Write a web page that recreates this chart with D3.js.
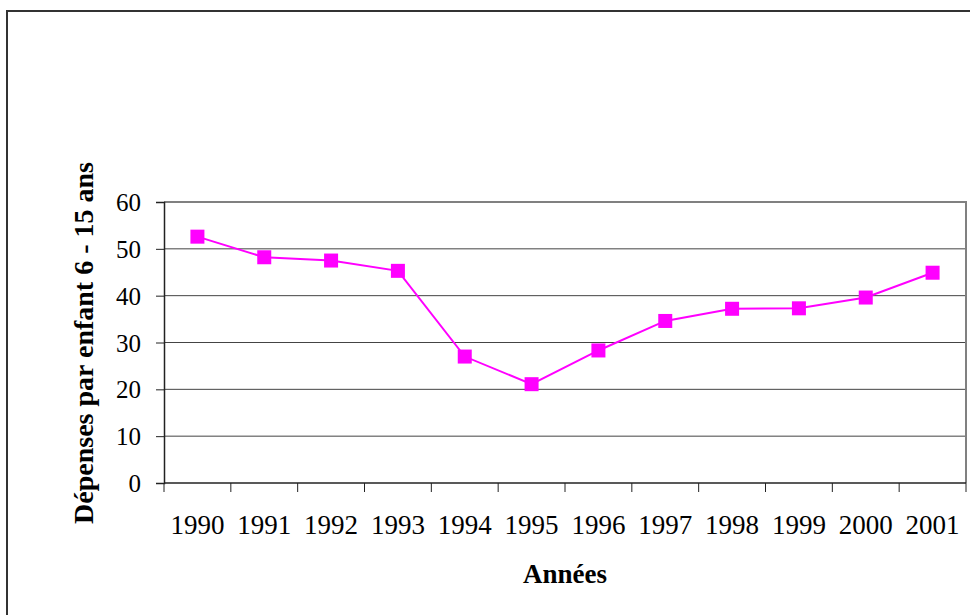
<!DOCTYPE html>
<html>
<head>
<meta charset="utf-8">
<script src="https://cdn.jsdelivr.net/npm/d3@7/dist/d3.min.js"></script>
<style>
  html, body { margin: 0; padding: 0; background: #fff; }
  svg { display: block; }
  svg text { font-family: "Liberation Serif", "DejaVu Serif", serif !important; fill: #000; }
</style>
</head>
<body>
<svg id="chart" width="970" height="615"></svg>
<script>
const years = ["1990","1991","1992","1993","1994","1995","1996","1997","1998","1999","2000","2001"];
const depenses = [52.6, 48.2, 47.5, 45.3, 27.0, 21.1, 28.3, 34.6, 37.2, 37.3, 39.6, 44.9];
const yTicks = [0, 10, 20, 30, 40, 50, 60];
const yTitle = "Dépenses par enfant 6 - 15 ans";
const xTitle = "Années";

const FONT = '"Liberation Serif", serif';
const svg = d3.select("#chart");
const mLeft = 164, mRight = 966, mTop = 202, mBottom = 483;

// outer frame
svg.append("rect")
  .attr("x", 7).attr("y", 11).attr("width", 1000).attr("height", 700)
  .attr("fill", "none").attr("stroke", "#333").attr("stroke-width", 2);

const x = d3.scaleBand().domain(years).range([mLeft, mRight]).padding(0);
const y = d3.scaleLinear().domain([0, 60]).range([mBottom, mTop]);

// gridlines
svg.append("g").selectAll("line")
  .data(yTicks.filter(d => d > 0 && d < 60))
  .join("line")
  .attr("x1", mLeft).attr("x2", mRight)
  .attr("y1", d => y(d)).attr("y2", d => y(d))
  .attr("stroke", "#444").attr("stroke-width", 1);

// plot area top / right border
svg.append("line").attr("x1", mLeft).attr("x2", mRight + 1)
  .attr("y1", y(60)).attr("y2", y(60))
  .attr("stroke", "#808080").attr("stroke-width", 2);
svg.append("line").attr("x1", mRight).attr("x2", mRight)
  .attr("y1", y(60)).attr("y2", mBottom)
  .attr("stroke", "#808080").attr("stroke-width", 2);

// y axis
const yAxis = d3.axisLeft(y).tickValues(yTicks).tickSize(8).tickPadding(8).tickFormat(d3.format("d"));
const gy = svg.append("g").attr("transform", `translate(${mLeft},0)`).call(yAxis)
  .attr("font-family", FONT);
gy.select(".domain").attr("stroke", "#222").attr("stroke-width", 1.5);
gy.selectAll(".tick line").attr("stroke", "#222").attr("stroke-width", 1);
gy.selectAll(".tick text")
  .style("font-family", FONT)
  .style("font-size", "25px").attr("fill", "#000").attr("dy", "0.34em")
  .attr("x", -23);

// x axis
const gx = svg.append("g").attr("transform", `translate(0,${mBottom})`);
gx.append("line").attr("x1", mLeft).attr("x2", mRight).attr("y1", 0).attr("y2", 0)
  .attr("stroke", "#222").attr("stroke-width", 1.5);
const boundaries = years.map(d => x(d)).concat([x(years[years.length - 1]) + x.bandwidth()]);
gx.selectAll("line.tk").data(boundaries).join("line").attr("class", "tk")
  .attr("x1", d => d).attr("x2", d => d).attr("y1", 0).attr("y2", 9)
  .attr("stroke", "#222").attr("stroke-width", 1);
gx.selectAll("text.lbl").data(years).join("text").attr("class", "lbl")
  .attr("x", d => x(d) + x.bandwidth() / 2).attr("y", 534 - mBottom)
  .attr("text-anchor", "middle")
  .style("font-family", FONT)
  .style("font-size", "27px")
  .text(d => d);

// line
const line = d3.line()
  .x((d, i) => x(years[i]) + x.bandwidth() / 2)
  .y(d => y(d));
svg.append("path").datum(depenses)
  .attr("d", line).attr("fill", "none")
  .attr("stroke", "#FF00FF").attr("stroke-width", 2);

// markers
const ms = 14;
svg.append("g").selectAll("rect").data(depenses).join("rect")
  .attr("x", (d, i) => x(years[i]) + x.bandwidth() / 2 - ms / 2)
  .attr("y", d => y(d) - ms / 2)
  .attr("width", ms).attr("height", ms)
  .attr("fill", "#FF00FF");

// titles
svg.append("text")
  .attr("transform", "translate(93,343) rotate(-90)")
  .attr("text-anchor", "middle")
  .style("font-family", FONT)
  .style("font-size", "28px").style("font-weight", "bold")
  .text(yTitle);

svg.append("text")
  .attr("x", (mLeft + mRight) / 2).attr("y", 583)
  .attr("text-anchor", "middle")
  .style("font-family", FONT)
  .style("font-size", "27px").style("font-weight", "bold")
  .text(xTitle);
</script>
</body>
</html>
